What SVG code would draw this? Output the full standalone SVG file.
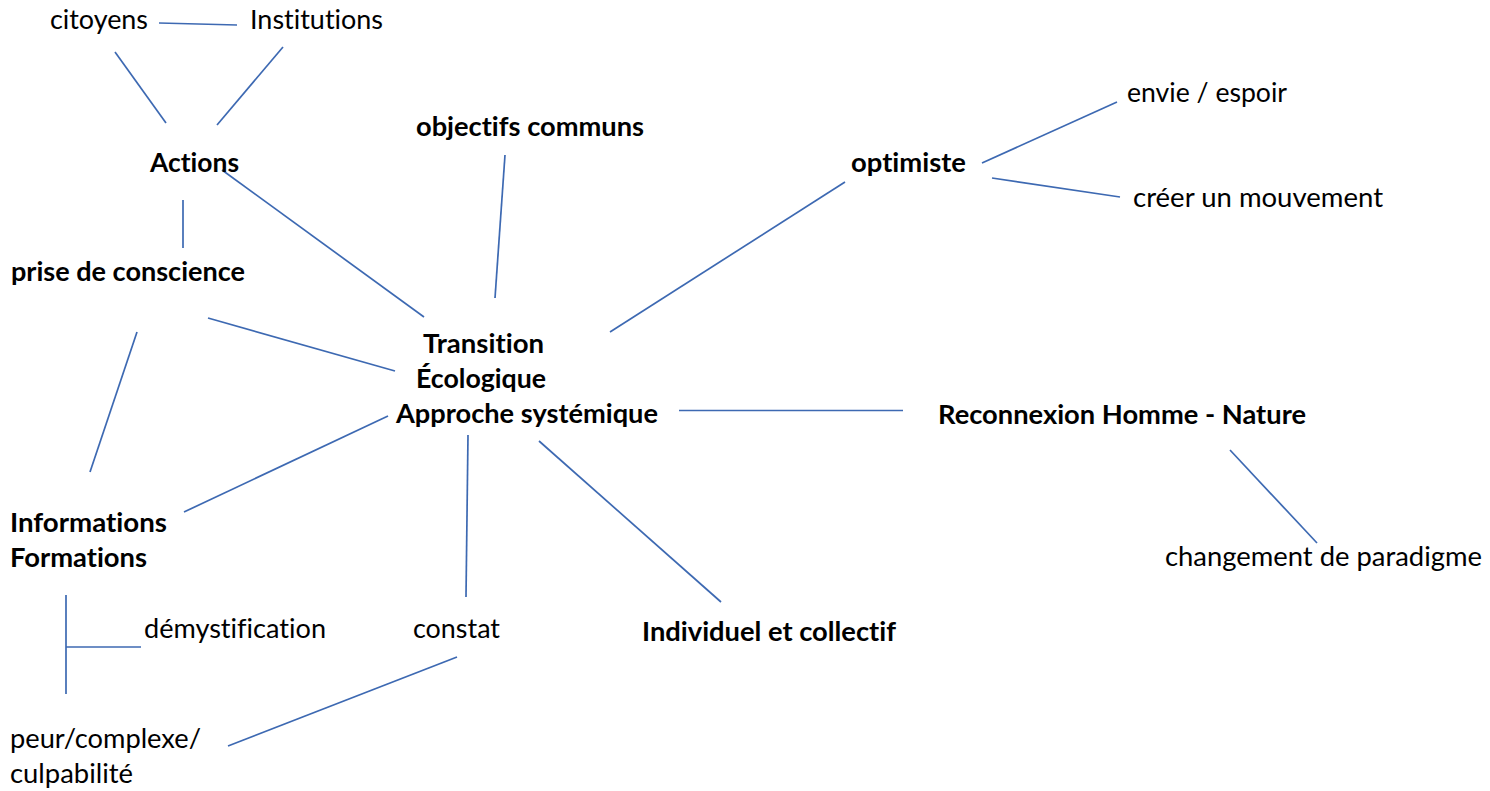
<svg xmlns="http://www.w3.org/2000/svg" width="1490" height="791" viewBox="0 0 1490 791">
<style>
.t{font-family:Lato,"Open Sans","Liberation Sans",sans-serif;font-size:26.5px;fill:#000;font-variant-ligatures:none;font-feature-settings:"liga" 0,"clig" 0}
.b{font-weight:bold}
.c line{stroke:#3D69B2;stroke-width:1.7;fill:none}
</style>
<rect width="1490" height="791" fill="#fff"/>
<g id="connectors" class="c">
<line x1="159" y1="23" x2="237" y2="25"/>
<line x1="115" y1="52" x2="166" y2="123"/>
<line x1="283" y1="47" x2="217" y2="125"/>
<line x1="222" y1="170" x2="424" y2="317"/>
<line x1="183" y1="200" x2="183" y2="248"/>
<line x1="505" y1="155" x2="495" y2="298"/>
<line x1="845" y1="182" x2="610" y2="332"/>
<line x1="982" y1="163" x2="1117" y2="102"/>
<line x1="992" y1="178" x2="1120" y2="197"/>
<line x1="208" y1="318" x2="395" y2="371"/>
<line x1="137" y1="332" x2="90" y2="472"/>
<line x1="388" y1="416" x2="184" y2="512"/>
<line x1="679" y1="410.5" x2="903" y2="410.5"/>
<line x1="468" y1="435" x2="466" y2="597"/>
<line x1="539" y1="441" x2="721" y2="602"/>
<line x1="1230" y1="450" x2="1317" y2="543"/>
<line x1="66" y1="595" x2="66" y2="694"/>
<line x1="66" y1="647" x2="141" y2="647"/>
<line x1="457" y1="657" x2="228" y2="746"/>
</g>
<g id="n-citoyens"><text class="t" x="50" y="29" textLength="98" lengthAdjust="spacingAndGlyphs">citoyens</text></g>
<g id="n-institutions"><text class="t" x="250" y="29" textLength="133" lengthAdjust="spacingAndGlyphs">Institutions</text></g>
<g id="n-actions"><text class="t b" x="150" y="172" textLength="89" lengthAdjust="spacingAndGlyphs">Actions</text></g>
<g id="n-prise"><text class="t b" x="11" y="281" textLength="234" lengthAdjust="spacingAndGlyphs">prise de conscience</text></g>
<g id="n-objectifs"><text class="t b" x="416" y="136" textLength="228" lengthAdjust="spacingAndGlyphs">objectifs communs</text></g>
<g id="n-optimiste"><text class="t b" x="851" y="172" textLength="115" lengthAdjust="spacingAndGlyphs">optimiste</text></g>
<g id="n-envie"><text class="t" x="1127" y="102" textLength="160" lengthAdjust="spacingAndGlyphs">envie / espoir</text></g>
<g id="n-creer"><text class="t" x="1133" y="207" textLength="250" lengthAdjust="spacingAndGlyphs">créer un mouvement</text></g>
<g id="n-transition">
<text class="t b" x="423" y="353" textLength="121" lengthAdjust="spacingAndGlyphs">Transition</text>
<text class="t b" x="416" y="388" textLength="130" lengthAdjust="spacingAndGlyphs">Écologique</text>
<text class="t b" x="396" y="423" textLength="262" lengthAdjust="spacingAndGlyphs">Approche systémique</text>
</g>
<g id="n-reconnexion"><text class="t b" x="938" y="424" textLength="368" lengthAdjust="spacingAndGlyphs">Reconnexion Homme - Nature</text></g>
<g id="n-changement"><text class="t" x="1165" y="566" textLength="317" lengthAdjust="spacingAndGlyphs">changement de paradigme</text></g>
<g id="n-informations">
<text class="t b" x="10" y="532" textLength="157" lengthAdjust="spacingAndGlyphs">Informations</text>
<text class="t b" x="10" y="567" textLength="137" lengthAdjust="spacingAndGlyphs">Formations</text>
</g>
<g id="n-demystification"><text class="t" x="144" y="638" textLength="182" lengthAdjust="spacingAndGlyphs">démystification</text></g>
<g id="n-constat"><text class="t" x="413" y="638" textLength="87" lengthAdjust="spacingAndGlyphs">constat</text></g>
<g id="n-individuel"><text class="t b" x="642" y="641" textLength="254" lengthAdjust="spacingAndGlyphs">Individuel et collectif</text></g>
<g id="n-peur">
<text class="t" x="10" y="748" textLength="191" lengthAdjust="spacingAndGlyphs">peur/complexe/</text>
<text class="t" x="10" y="783" textLength="123" lengthAdjust="spacingAndGlyphs">culpabilité</text>
</g>
</svg>
